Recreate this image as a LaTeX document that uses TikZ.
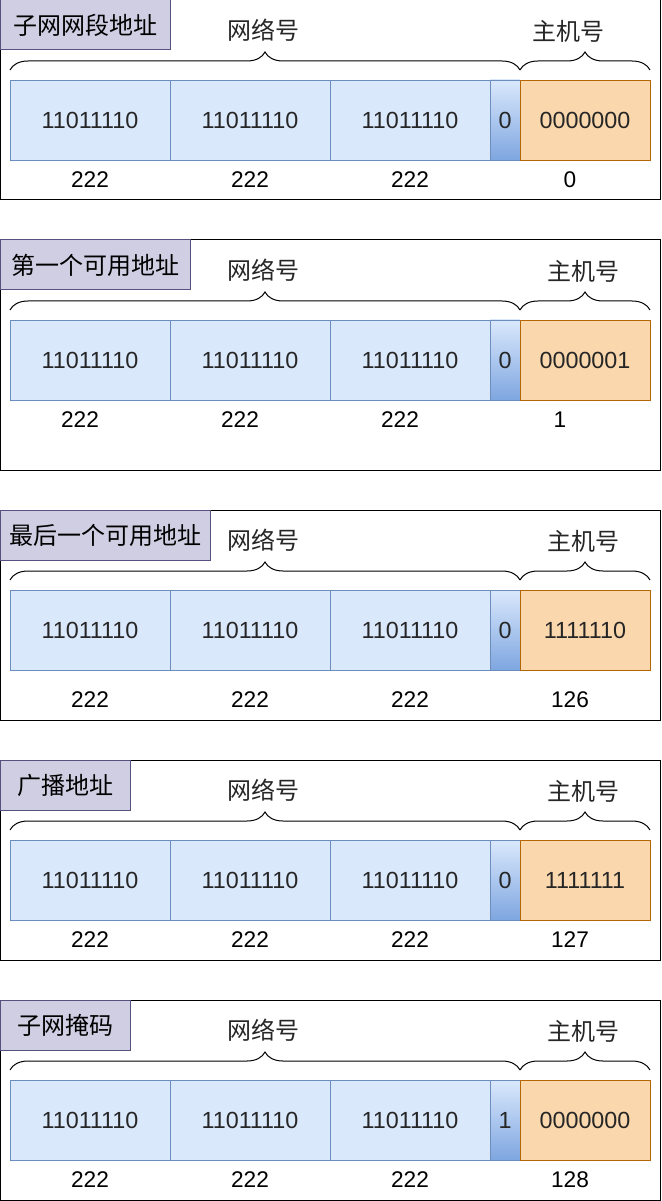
\documentclass[tikz,border=0pt]{standalone}
\usepackage{fontspec}
\setmainfont{Liberation Sans}
\newfontfamily\cjk{Noto Sans CJK SC}
\usepackage{xcolor}
\usetikzlibrary{decorations.pathreplacing,positioning,calc}
\definecolor{titlefill}{HTML}{D0CEE2}
\definecolor{titleline}{HTML}{56517E}
\definecolor{netfill}{HTML}{DAE8FC}
\definecolor{netline}{HTML}{6C8EBF}
\definecolor{bitdark}{HTML}{7EA6E0}
\definecolor{hostfill}{HTML}{FAD7AC}
\definecolor{hostline}{HTML}{B46504}

\begin{document}
\begin{tikzpicture}[x=0.75pt,y=0.75pt,yscale=-1,xscale=1,
  panel/.style={draw=black,line width=0.75pt},
  titlebox/.style={draw=titleline,fill=titlefill,line width=0.75pt,anchor=north west,
    minimum height=37.5pt,inner sep=0pt,outer sep=0pt,font=\cjk\fontsize{18}{20}\selectfont},
  cell/.style={minimum height=60pt,inner sep=0pt,outer sep=0pt,line width=0.6pt,
    font=\fontsize{17.5}{19}\selectfont,text=black!85},
  netbox/.style={cell,draw=netline,fill=netfill,minimum width=120pt},
  bitbox/.style={cell,draw=netline,top color=netfill,bottom color=bitdark,minimum width=22.5pt},
  hostbox/.style={cell,draw=hostline,fill=hostfill,minimum width=97.5pt},
  partlabel/.style={font=\cjk\fontsize{18}{20}\selectfont,text=black!85},
  declabel/.style={font=\fontsize{17}{19}\selectfont},
  partbrace/.style={decorate,decoration={brace,amplitude=13.5pt},line width=0.75pt}]
\useasboundingbox (0,0) rectangle (661,1201);

% one panel per address
\foreach \oy/\title/\tw/\bit/\host/\dec/\ny/\nx/\ph/\hx [count=\i] in {
  0/子网网段地址/170/0/0000000/0/180/0/200/568,
  240/第一个可用地址/190/0/0000001/1/180/-10/230/583,
  510/最后一个可用地址/210/0/1111110/126/190/0/210/583,
  760/广播地址/130/0/1111111/127/180/0/200/583,
  1000/子网掩码/130/1/0000000/128/180/0/200/583}{
  \draw[panel] (0.5,\oy) rectangle (660,\oy+\ph);
  \node[titlebox,minimum width=\tw*0.75pt] (t\i) at (0.5,\oy) {\title};
  % address bits
  \node[netbox,anchor=north west] (a\i) at (10,\oy+80) {11011110};
  \node[netbox,right=0pt of a\i] (b\i) {11011110};
  \node[netbox,right=0pt of b\i] (c\i) {11011110};
  \node[bitbox,right=0pt of c\i] (s\i) {\bit};
  \node[hostbox,right=0pt of s\i] (h\i) {\host};
  % braces
  \draw[partbrace] ($(a\i.north west)+(0,-10)$) -- ($(s\i.north east)+(0,-10)$);
  \draw[partbrace] ($(h\i.north west)+(0,-10)$) -- ($(h\i.north east)+(0,-10)$);
  \node[partlabel] (net\i) at (263,\oy+30) {网络号};
  \node[partlabel] (hst\i) at (\hx,\oy+31) {主机号};
  % decimal values
  \node[declabel] (da\i) at (90+\nx,\oy+\ny) {222};
  \node[declabel] (db\i) at (250+\nx,\oy+\ny) {222};
  \node[declabel] (dc\i) at (410+\nx,\oy+\ny) {222};
  \node[declabel] (dh\i) at (570+\nx,\oy+\ny) {\dec};
}

\end{tikzpicture}
\end{document}
